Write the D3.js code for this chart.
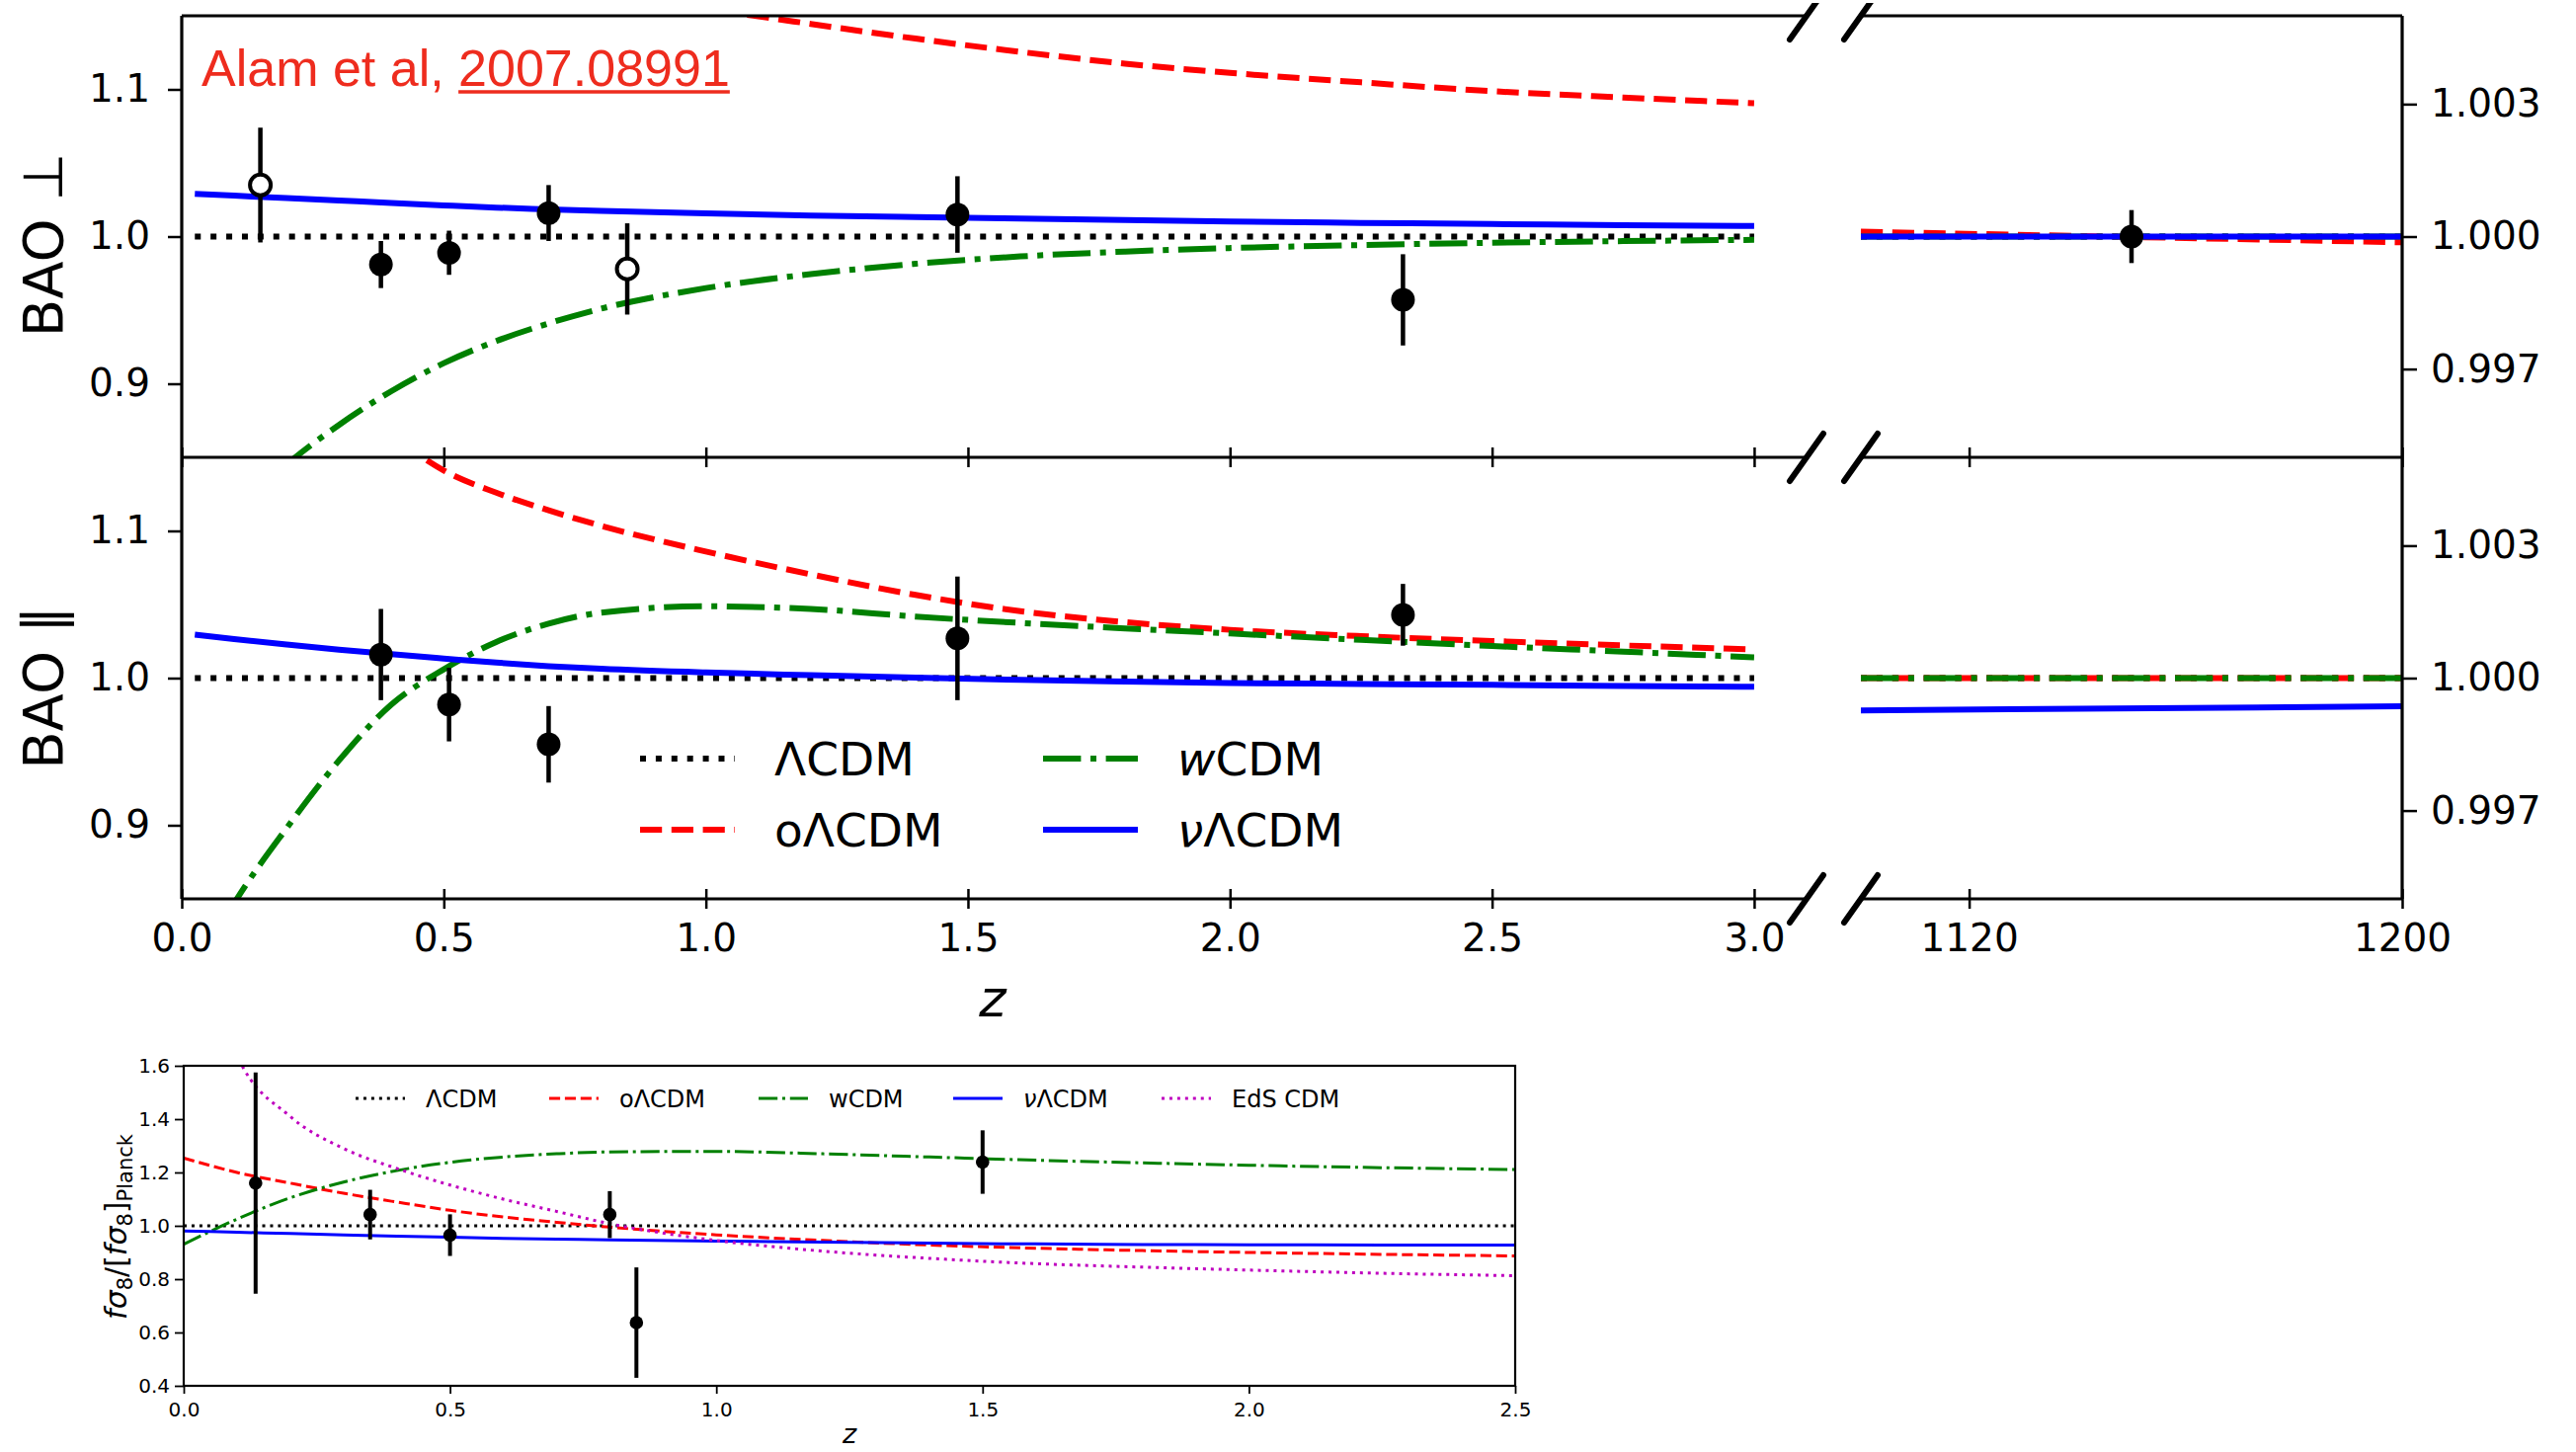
<!DOCTYPE html>
<html>
<head>
<meta charset="utf-8">
<script src="https://d3js.org/d3.v7.min.js"></script>
<style>
  body { margin: 0; background: #fff; }
  svg { display: block; }
</style>
</head>
<body>
<svg id="chart" width="2608" height="1470"></svg>
<script>
// ---- data ----

// BAO measurements (ratio to Planck LCDM)
var perpZ    = [0.15, 0.38, 0.51, 0.70, 0.85, 1.48, 2.33];
var perpVal  = [1.035, 0.981, 0.989, 1.016, 0.978, 1.015, 0.957];
var perpErr  = [0.039, 0.016, 0.015, 0.019, 0.031, 0.026, 0.031];
var perpOpen = [true, false, false, false, true, false, false];

var parZ   = [0.38, 0.51, 0.70, 1.48, 2.33];
var parVal = [1.016, 0.982, 0.955, 1.027, 1.043];
var parErr = [0.031, 0.025, 0.026, 0.042, 0.021];

// CMB point in the right hand panel
var cmbZ   = [1150];
var cmbVal = [1.0000];
var cmbErr = [0.0006];

// model curves, low redshift
var zGrid = [0.025, 0.1, 0.2, 0.3, 0.4, 0.5, 0.6, 0.7, 0.8, 1.0, 1.2, 1.4, 1.6, 1.8, 2.0, 2.25, 2.5, 2.75, 3.0];

var perpLCDM   = [1, 1, 1, 1, 1, 1, 1, 1, 1, 1, 1, 1, 1, 1, 1, 1, 1, 1, 1];
var perpOLCDM  = [1.33, 1.30, 1.27, 1.245, 1.222, 1.203, 1.187, 1.176, 1.167, 1.155, 1.1445, 1.1345, 1.1255, 1.1175, 1.1112, 1.1048, 1.0988, 1.0945, 1.0906];
var perpWCDM   = [0.78, 0.81, 0.845, 0.872, 0.895, 0.914, 0.929, 0.941, 0.951, 0.965, 0.9745, 0.9815, 0.9865, 0.9898, 0.9922, 0.9942, 0.9958, 0.9969, 0.9978];
var perpNuLCDM = [1.029, 1.0278, 1.0262, 1.0245, 1.0228, 1.0212, 1.0197, 1.0185, 1.0174, 1.0157, 1.0143, 1.0132, 1.0122, 1.0112, 1.0103, 1.0093, 1.0085, 1.0078, 1.0072];

var parLCDM   = [1, 1, 1, 1, 1, 1, 1, 1, 1, 1, 1, 1, 1, 1, 1, 1, 1, 1, 1];
var parOLCDM  = [1.29, 1.255, 1.222, 1.193, 1.165, 1.141, 1.126, 1.114, 1.1035, 1.086, 1.0705, 1.0565, 1.0455, 1.038, 1.0328, 1.0285, 1.0252, 1.0222, 1.0195];
var parWCDM   = [0.80, 0.847, 0.898, 0.944, 0.982, 1.006, 1.0245, 1.037, 1.0445, 1.0488, 1.047, 1.0418, 1.0375, 1.0338, 1.0303, 1.026, 1.0218, 1.018, 1.0141];
var parNuLCDM = [1.0295, 1.0265, 1.0228, 1.0193, 1.0162, 1.0133, 1.0105, 1.0081, 1.0063, 1.0038, 1.002, 1.0003, 0.9988, 0.9977, 0.9967, 0.996, 0.9954, 0.9947, 0.9941];

// model curves, CMB redshift
var cmbGrid = [1100, 1200];
var cmbPerpLCDM   = [1.0, 1.0];
var cmbPerpOLCDM  = [1.00011, 0.99987];
var cmbPerpWCDM   = [1.0, 1.0];
var cmbPerpNuLCDM = [1.0, 1.0];
var cmbParLCDM    = [1.0, 1.0];
var cmbParOLCDM   = [1.0, 1.0];
var cmbParWCDM    = [1.0, 1.0];
var cmbParNuLCDM  = [0.99927, 0.99936];

// growth rate panel
var fsZ   = [0.135, 0.35, 0.5, 0.8, 0.85, 1.5];
var fsVal = [1.16, 1.042, 0.965, 1.042, 0.637, 1.239];
var fsErr = [0.415, 0.093, 0.078, 0.088, 0.207, 0.119];

var fsGrid   = [0, 0.1, 0.2, 0.3, 0.4, 0.5, 0.6, 0.7, 0.8, 1.0, 1.2, 1.4, 1.6, 1.8, 2.0, 2.25, 2.5];
var fsLCDM   = [1, 1, 1, 1, 1, 1, 1, 1, 1, 1, 1, 1, 1, 1, 1, 1, 1];
var fsOLCDM  = [1.254, 1.2, 1.16, 1.122, 1.089, 1.058, 1.033, 1.013, 0.995, 0.966, 0.945, 0.928, 0.916, 0.907, 0.9, 0.893, 0.887];
var fsWCDM   = [0.931, 1.025, 1.105, 1.164, 1.207, 1.238, 1.258, 1.27, 1.277, 1.279, 1.27, 1.258, 1.246, 1.236, 1.227, 1.218, 1.211];
var fsNuLCDM = [0.981, 0.976, 0.971, 0.966, 0.961, 0.957, 0.953, 0.95, 0.947, 0.943, 0.939, 0.935, 0.932, 0.93, 0.929, 0.928, 0.928];
var fsEdS    = [2.3, 1.64, 1.41, 1.29, 1.215, 1.153, 1.1, 1.054, 1.008, 0.945, 0.905, 0.878, 0.858, 0.845, 0.834, 0.822, 0.813];

// tick labels
var baoXTicks  = [0, 0.5, 1.0, 1.5, 2.0, 2.5, 3.0];
var cmbXTicks  = [1120, 1200];
var baoYTicks  = [0.9, 1.0, 1.1];
var cmbYTicks  = [0.997, 1.000, 1.003];
var fsXTicks   = [0, 0.5, 1.0, 1.5, 2.0, 2.5];
var fsYTicks   = [0.4, 0.6, 0.8, 1.0, 1.2, 1.4, 1.6];

// ---- styles ----
var lcdm   = {color: "#000000", dash: [1, 1.65]};
var olcdm  = {color: "#ff0000", dash: [3.7, 1.6]};
var wcdm   = {color: "#008000", dash: [6.4, 1.6, 1, 1.6]};
var nulcdm = {color: "#0000ff", dash: null};
var eds    = {color: "#bf00bf", dash: [1, 1.65]};

var svg = d3.select("#chart");
var defs = svg.append("defs");

// scales
var xLeft  = d3.scaleLinear().domain([0, 3.1]).range([184, 1829]);
var xRight = d3.scaleLinear().domain([1100, 1200]).range([1884, 2432]);
var yPerp  = d3.scaleLinear().domain([0.85, 1.15]).range([463, 16]);
var yPar   = d3.scaleLinear().domain([0.85, 1.15]).range([910, 463]);
var yPerpR = d3.scaleLinear().domain([0.995, 1.005]).range([463, 16]);
var yParR  = d3.scaleLinear().domain([0.995, 1.005]).range([910, 463]);
var xF = d3.scaleLinear().domain([0, 2.5]).range([186, 1534]);
var yF = d3.scaleLinear().domain([0.4, 1.6]).range([1403, 1079]);

function clip(id, x, y) {
    defs.append("clipPath").attr("id", id).append("rect")
        .attr("x", x.range()[0]).attr("y", y.range()[1])
        .attr("width", x.range()[1] - x.range()[0])
        .attr("height", y.range()[0] - y.range()[1]);
}
clip("cTL", xLeft, yPerp);
clip("cML", xLeft, yPar);
clip("cTR", xRight, yPerpR);
clip("cMR", xRight, yParR);
clip("cF", xF, yF);

function curve(x, y, zs, vals, m, lw, cid) {
    var line = d3.line()
        .x(function (d, i) { return x(zs[i]); })
        .y(function (d) { return y(d); })
        .curve(d3.curveMonotoneX);
    svg.append("path")
        .datum(vals)
        .attr("d", line)
        .attr("clip-path", "url(#" + cid + ")")
        .attr("fill", "none")
        .attr("stroke", m.color)
        .attr("stroke-width", lw)
        .attr("stroke-dasharray", m.dash ? m.dash.map(function (v) { return v * lw; }).join(",") : null);
}

function points(x, y, zs, vals, errs, open, r, lw) {
    var g = svg.append("g");
    g.selectAll("line").data(vals).enter().append("line")
        .attr("x1", function (d, i) { return x(zs[i]); })
        .attr("x2", function (d, i) { return x(zs[i]); })
        .attr("y1", function (d, i) { return y(d - errs[i]); })
        .attr("y2", function (d, i) { return y(d + errs[i]); })
        .attr("stroke", "black")
        .attr("stroke-width", lw);
    g.selectAll("circle").data(vals).enter().append("circle")
        .attr("cx", function (d, i) { return x(zs[i]); })
        .attr("cy", function (d) { return y(d); })
        .attr("r", function (d, i) { return open && open[i] ? r - 1.5 : r; })
        .attr("fill", function (d, i) { return open && open[i] ? "white" : "black"; })
        .attr("stroke", "black")
        .attr("stroke-width", function (d, i) { return open && open[i] ? 4 : 0; });
}

function styleAxis(g, size, tickW) {
    g.attr("font-family", "DejaVu Sans").attr("font-size", size);
    g.select(".domain").remove();
    g.selectAll(".tick line").attr("stroke", "black").attr("stroke-width", tickW);
    g.selectAll(".tick text").attr("fill", "black");
}

// ---- BAO model curves ----
var baoLW = 6;
curve(xLeft, yPerp, zGrid, perpLCDM, lcdm, baoLW, "cTL");
curve(xLeft, yPerp, zGrid, perpOLCDM, olcdm, baoLW, "cTL");
curve(xLeft, yPerp, zGrid, perpWCDM, wcdm, baoLW, "cTL");
curve(xLeft, yPerp, zGrid, perpNuLCDM, nulcdm, baoLW, "cTL");

curve(xLeft, yPar, zGrid, parLCDM, lcdm, baoLW, "cML");
curve(xLeft, yPar, zGrid, parOLCDM, olcdm, baoLW, "cML");
curve(xLeft, yPar, zGrid, parWCDM, wcdm, baoLW, "cML");
curve(xLeft, yPar, zGrid, parNuLCDM, nulcdm, baoLW, "cML");

curve(xRight, yPerpR, cmbGrid, cmbPerpLCDM, lcdm, baoLW, "cTR");
curve(xRight, yPerpR, cmbGrid, cmbPerpOLCDM, olcdm, baoLW, "cTR");
curve(xRight, yPerpR, cmbGrid, cmbPerpWCDM, wcdm, baoLW, "cTR");
curve(xRight, yPerpR, cmbGrid, cmbPerpNuLCDM, nulcdm, baoLW, "cTR");

curve(xRight, yParR, cmbGrid, cmbParLCDM, lcdm, baoLW, "cMR");
curve(xRight, yParR, cmbGrid, cmbParOLCDM, olcdm, baoLW, "cMR");
curve(xRight, yParR, cmbGrid, cmbParWCDM, wcdm, baoLW, "cMR");
curve(xRight, yParR, cmbGrid, cmbParNuLCDM, nulcdm, baoLW, "cMR");

// data points
points(xLeft, yPerp, perpZ, perpVal, perpErr, perpOpen, 12, 4.5);
points(xLeft, yPar, parZ, parVal, parErr, null, 12, 4.5);
points(xRight, yPerpR, cmbZ, cmbVal, cmbErr, null, 12, 4.5);

// ---- BAO axes ----
var axY1 = svg.append("g").attr("transform", "translate(184,0)")
    .call(d3.axisLeft(yPerp).tickValues(baoYTicks).tickFormat(d3.format(".1f")).tickSize(14).tickPadding(18));
var axY2 = svg.append("g").attr("transform", "translate(184,0)")
    .call(d3.axisLeft(yPar).tickValues(baoYTicks).tickFormat(d3.format(".1f")).tickSize(14).tickPadding(18));
var axY3 = svg.append("g").attr("transform", "translate(2432,0)")
    .call(d3.axisRight(yPerpR).tickValues(cmbYTicks).tickFormat(d3.format(".3f")).tickSize(15).tickPadding(14));
var axY4 = svg.append("g").attr("transform", "translate(2432,0)")
    .call(d3.axisRight(yParR).tickValues(cmbYTicks).tickFormat(d3.format(".3f")).tickSize(15).tickPadding(14));
[axY1, axY2, axY3, axY4].forEach(function (g) { styleAxis(g, 39, 2.5); });

var axX1 = svg.append("g").attr("transform", "translate(0,463)")
    .call(d3.axisBottom(xLeft).tickValues(baoXTicks).tickFormat("").tickSize(10));
var axX2 = svg.append("g").attr("transform", "translate(0,463)")
    .call(d3.axisBottom(xRight).tickValues(cmbXTicks).tickFormat("").tickSize(10));
var axX3 = svg.append("g").attr("transform", "translate(0,910)")
    .call(d3.axisBottom(xLeft).tickValues(baoXTicks).tickFormat(d3.format(".1f")).tickSize(10).tickPadding(15));
var axX4 = svg.append("g").attr("transform", "translate(0,910)")
    .call(d3.axisBottom(xRight).tickValues(cmbXTicks).tickFormat(d3.format("d")).tickSize(10).tickPadding(15));
[axX1, axX2, axX3, axX4].forEach(function (g) {
    styleAxis(g, 39, 2.5);
    g.selectAll(".tick line").attr("y1", -10).attr("y2", 10);
});

// spines
var spine = svg.append("g").attr("stroke", "black").attr("stroke-width", 3.2);
spine.append("line").attr("x1", 184).attr("x2", 184).attr("y1", 16).attr("y2", 910);
spine.append("line").attr("x1", 2432).attr("x2", 2432).attr("y1", 16).attr("y2", 910);
[16, 463, 910].forEach(function (yy) {
    spine.append("line").attr("x1", 184).attr("x2", 1829).attr("y1", yy).attr("y2", yy);
    spine.append("line").attr("x1", 1884).attr("x2", 2432).attr("y1", yy).attr("y2", yy);
});

// break marks
defs.append("clipPath").attr("id", "cBreak").append("rect")
    .attr("x", 0).attr("y", 3).attr("width", 2608).attr("height", 1467);
var brk = svg.append("g").attr("stroke", "black").attr("stroke-width", 6)
    .attr("stroke-linecap", "round").attr("clip-path", "url(#cBreak)");
[16, 463, 910].forEach(function (yy) {
    [1829, 1884].forEach(function (xx) {
        brk.append("line").attr("x1", xx - 17).attr("y1", yy + 24).attr("x2", xx + 17).attr("y2", yy - 24);
    });
});

// axis labels
svg.append("text")
    .attr("transform", "translate(63,248) rotate(-90)")
    .attr("text-anchor", "middle")
    .attr("font-family", "DejaVu Sans").attr("font-size", 56)
    .text("BAO \u22A5");
svg.append("text")
    .attr("transform", "translate(63,696) rotate(-90)")
    .attr("text-anchor", "middle")
    .attr("font-family", "DejaVu Sans").attr("font-size", 56)
    .text("BAO \u2225");
svg.append("text")
    .attr("x", 1005).attr("y", 1029)
    .attr("text-anchor", "middle")
    .attr("font-family", "DejaVu Sans").attr("font-style", "italic").attr("font-size", 52)
    .text("z");

// reference note, arXiv number underlined
var noteText = "Alam et al, 2007.08991";
var note = svg.append("text")
    .attr("x", 204).attr("y", 87)
    .attr("font-family", "Liberation Sans").attr("font-size", 52)
    .attr("fill", "#ee2c1e")
    .text(noteText);
var cut = noteText.indexOf("2007");
var u0 = note.node().getSubStringLength(0, cut);
var uw = note.node().getSubStringLength(cut, noteText.length - cut);
svg.append("line")
    .attr("x1", 204 + u0).attr("x2", 204 + u0 + uw)
    .attr("y1", 93).attr("y2", 93)
    .attr("stroke", "#ee2c1e").attr("stroke-width", 3.5);

// BAO legend
var baoLegend = [
    {m: lcdm, x: 648, y: 768, it: "", rest: "\u039BCDM"},
    {m: olcdm, x: 648, y: 840, it: "", rest: "o\u039BCDM"},
    {m: wcdm, x: 1056, y: 768, it: "w", rest: "CDM"},
    {m: nulcdm, x: 1056, y: 840, it: "\u03BD", rest: "\u039BCDM"}
];
baoLegend.forEach(function (e) {
    svg.append("line")
        .attr("x1", e.x).attr("x2", e.x + 96).attr("y1", e.y).attr("y2", e.y)
        .attr("stroke", e.m.color).attr("stroke-width", baoLW)
        .attr("stroke-dasharray", e.m.dash ? e.m.dash.map(function (v) { return v * baoLW; }).join(",") : null);
    var t = svg.append("text")
        .attr("x", e.x + 136).attr("y", e.y + 17)
        .attr("font-family", "DejaVu Sans").attr("font-size", 47);
    if (e.it) t.append("tspan").attr("font-style", "italic").text(e.it);
    t.append("tspan").text(e.rest);
});

// ---- growth rate panel ----
var fsLW = 3;
curve(xF, yF, fsGrid, fsLCDM, lcdm, fsLW, "cF");
curve(xF, yF, fsGrid, fsOLCDM, olcdm, fsLW, "cF");
curve(xF, yF, fsGrid, fsWCDM, wcdm, fsLW, "cF");
curve(xF, yF, fsGrid, fsNuLCDM, nulcdm, fsLW, "cF");
curve(xF, yF, fsGrid, fsEdS, eds, fsLW, "cF");
points(xF, yF, fsZ, fsVal, fsErr, null, 6.8, 4);

var fAxY = svg.append("g").attr("transform", "translate(186,0)")
    .call(d3.axisLeft(yF).tickValues(fsYTicks).tickFormat(d3.format(".1f")).tickSize(9).tickPadding(5));
var fAxX = svg.append("g").attr("transform", "translate(0,1403)")
    .call(d3.axisBottom(xF).tickValues(fsXTicks).tickFormat(d3.format(".1f")).tickSize(8).tickPadding(9));
styleAxis(fAxY, 20, 1.8);
styleAxis(fAxX, 20, 1.8);

svg.append("rect")
    .attr("x", 186).attr("y", 1079).attr("width", 1534 - 186).attr("height", 1403 - 1079)
    .attr("fill", "none").attr("stroke", "black").attr("stroke-width", 2.2);

// growth legend
var fsLegend = [
    {m: lcdm, x: 360, it: "", rest: "\u039BCDM"},
    {m: olcdm, x: 556, it: "", rest: "o\u039BCDM"},
    {m: wcdm, x: 768, it: "", rest: "wCDM"},
    {m: nulcdm, x: 965, it: "\u03BD", rest: "\u039BCDM"},
    {m: eds, x: 1176, it: "", rest: "EdS CDM"}
];
fsLegend.forEach(function (e) {
    svg.append("line")
        .attr("x1", e.x).attr("x2", e.x + 50).attr("y1", 1112).attr("y2", 1112)
        .attr("stroke", e.m.color).attr("stroke-width", fsLW)
        .attr("stroke-dasharray", e.m.dash ? e.m.dash.map(function (v) { return v * fsLW; }).join(",") : null);
    var t = svg.append("text")
        .attr("x", e.x + 71).attr("y", 1121)
        .attr("font-family", "DejaVu Sans").attr("font-size", 24);
    if (e.it) t.append("tspan").attr("font-style", "italic").text(e.it);
    t.append("tspan").text(e.rest);
});

// growth axis labels
var yl = svg.append("text")
    .attr("transform", "translate(128,1242) rotate(-90)")
    .attr("text-anchor", "middle")
    .attr("font-family", "DejaVu Sans").attr("font-size", 30);
yl.append("tspan").attr("font-style", "italic").text("f\u03C3");
yl.append("tspan").attr("font-size", 21).attr("dy", 6).text("8");
yl.append("tspan").attr("dy", -6).text("/[");
yl.append("tspan").attr("font-style", "italic").text("f\u03C3");
yl.append("tspan").attr("font-size", 21).attr("dy", 6).text("8");
yl.append("tspan").attr("dy", -6).text("]");
yl.append("tspan").attr("font-size", 21).attr("dy", 6).text("Planck");

svg.append("text")
    .attr("x", 860).attr("y", 1461)
    .attr("text-anchor", "middle")
    .attr("font-family", "DejaVu Sans").attr("font-style", "italic").attr("font-size", 27)
    .text("z");
</script>
</body>
</html>
